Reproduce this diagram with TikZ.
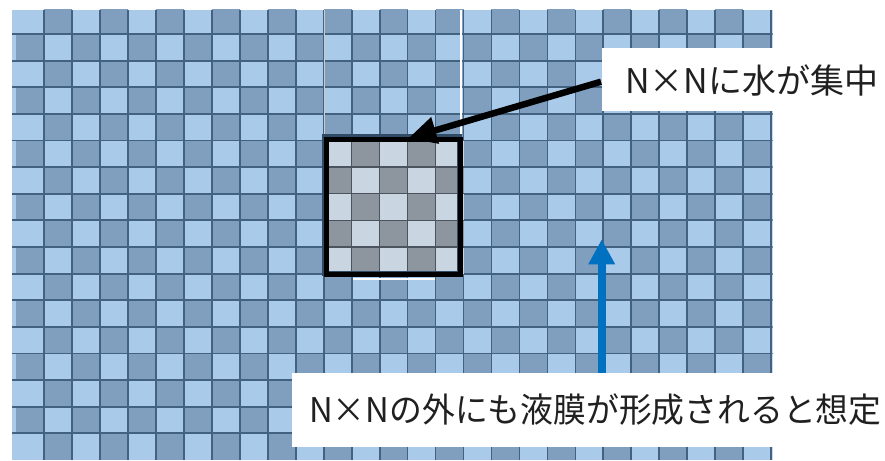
\documentclass[tikz,border=0pt]{standalone}
\usepackage{fontspec}
\newfontfamily\jp{Noto Sans CJK JP}
\usetikzlibrary{arrows.meta}
\definecolor{lightc}{HTML}{AACAE9}
\definecolor{darkc}{HTML}{809FBF}
\definecolor{gline}{HTML}{42627F}
\definecolor{glight}{HTML}{C9D5E0}
\definecolor{gdark}{HTML}{8D959F}
\definecolor{ginline}{HTML}{4B545E}
\definecolor{frameblue}{HTML}{2F4B66}
\definecolor{arrowblue}{HTML}{0070C0}
\definecolor{txt}{HTML}{202020}
\tikzset{
  gridline/.style={gline,line width=1.8pt},
  callout/.style={font=\jp\fontsize{34}{34}\selectfont,text=txt,inner sep=0pt},
  blackarrow/.style={black,line width=6.5pt,-{Triangle[length=28pt,width=26pt]}},
  bluearrow/.style={arrowblue,line width=8pt,-{Triangle[length=25pt,width=25pt]}}
}
\begin{document}
\begin{tikzpicture}[x=1pt,y=-1pt]
\useasboundingbox (0,0) rectangle (885,460);
% main grid
\begin{scope}
\clip (12,10) rectangle (772.5,460);
\fill[lightc] (12,10) rectangle (772.5,460);
\foreach \c in {0,...,26}{
  \foreach \r in {0,...,16}{
    \pgfmathparse{int(mod(\c+\r,2))}
    \ifnum\pgfmathresult=1
      \fill[darkc] ({16+\c*27.97},{7.4+\r*26.62}) rectangle ++(27.97,26.62);
    \fi
  }
}
\foreach \c in {1,...,27}
  \draw[gridline] ({16+\c*27.97},10) -- ({16+\c*27.97},460);
\foreach \r in {1,...,16}
  \draw[gridline] (12,{7.4+\r*26.62}) -- (772.5,{7.4+\r*26.62});
\end{scope}
% inner N x N box
\foreach \c in {11,...,15}{
  \foreach \r in {5,...,9}{
    \pgfmathparse{int(mod(\c+\r,2))}
    \ifnum\pgfmathresult=1
      \fill[gdark] ({16+\c*27.97},{7.4+\r*26.62}) rectangle ++(27.97,26.62);
    \else
      \fill[glight] ({16+\c*27.97},{7.4+\r*26.62}) rectangle ++(27.97,26.62);
    \fi
  }
}
\foreach \c in {12,...,15}
  \draw[ginline,line width=1.4pt] ({16+\c*27.97},140.5) -- ({16+\c*27.97},273.6);
\foreach \r in {6,...,9}
  \draw[ginline,line width=1.4pt] (323.7,{7.4+\r*26.62}) -- (463.5,{7.4+\r*26.62});
\draw[frameblue,line width=5pt] (324.2,136.5) rectangle (459.5,273.5);
\draw[black,line width=5pt] (326,139.5) rectangle (460,274.2);
% white guide lines
\draw[white,line width=2pt] (460.5,10) -- (460.5,134);
\draw[black!20,line width=1pt] (324.5,10) -- (324.5,134);
\draw[white,line width=2pt] (353,279) -- (435,279);
% arrows
\coordinate (a1s) at (601,81.7);
\coordinate (a1e) at (408.3,138.3);
\coordinate (b1s) at (601.7,380);
\coordinate (b1e) at (601.7,239.3);
\draw[blackarrow] (a1s) -- (a1e);
\draw[bluearrow] (b1s) -- (b1e);
% callouts
\fill[white] (602,48) rectangle (885,111);
\node[callout,anchor=base west] (t1) at (625,93.3) {N×Nに水が集中};
\fill[white] (291.6,373) rectangle (885,446.6);
\node[callout,anchor=base west] (t2) at (309,422.6) {\scalebox{0.965}[1]{N×Nの外にも液膜が形成されると想定}};
\end{tikzpicture}
\end{document}
